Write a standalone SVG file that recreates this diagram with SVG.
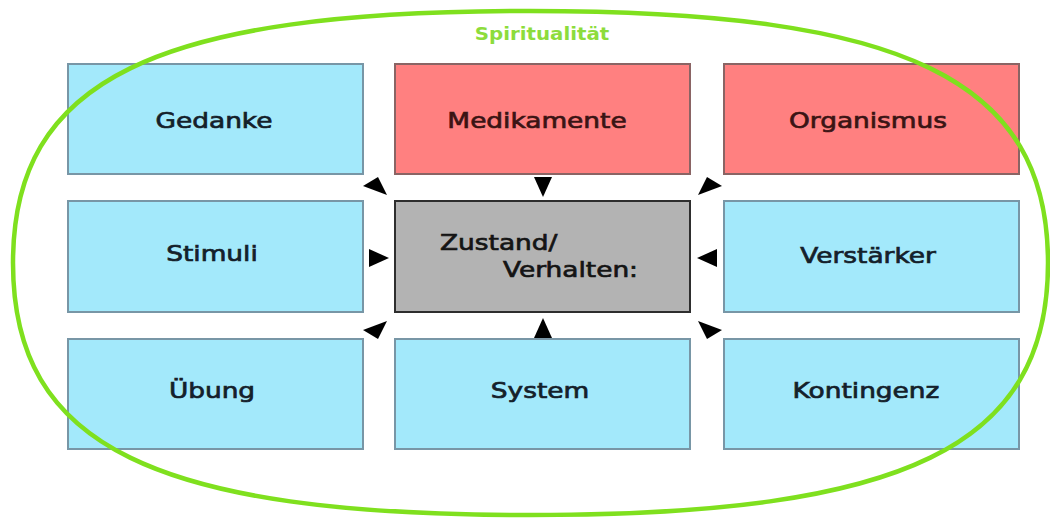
<svg xmlns="http://www.w3.org/2000/svg" width="1050" height="519" viewBox="0 0 1050 519">
<style>
.b{fill:#a3e9fb;stroke:#7896a6;stroke-width:2}
.r{fill:#ff8080;stroke:#8a6464;stroke-width:2}
.g{fill:#b3b3b3;stroke:#2e2e2e;stroke-width:2}
.t{font-family:"DejaVu Sans",sans-serif;font-size:22px;fill:#14202a;stroke:#14202a;stroke-width:0.7;text-anchor:middle}
.tr{fill:#3a1414;stroke:#3a1414}
.c{font-family:"DejaVu Sans",sans-serif;font-size:22px;fill:#141414;stroke:#141414;stroke-width:0.7}
.s{font-family:"DejaVu Sans",sans-serif;font-size:18px;font-weight:bold;fill:#8ddc3c;text-anchor:middle}
.a{fill:#000}
</style>
<defs>
<path id="arr" d="M0,0 L-20,-9 L-20,9 Z"/>
</defs>
<rect width="1050" height="519" fill="#fff"/>
<g id="gedanke"><rect class="b" x="68" y="64" width="295" height="110"/><text class="t" transform="translate(214,128) scale(1.2,1)">Gedanke</text></g>
<g id="medikamente"><rect class="r" x="395" y="64" width="295" height="110"/><text class="t tr" transform="translate(537,128) scale(1.2,1)">Medikamente</text></g>
<g id="organismus"><rect class="r" x="724" y="64" width="295" height="110"/><text class="t tr" transform="translate(868,128) scale(1.2,1)">Organismus</text></g>
<g id="stimuli"><rect class="b" x="68" y="201" width="295" height="111"/><text class="t" transform="translate(212,261) scale(1.2,1)">Stimuli</text></g>
<g id="zustand"><rect class="g" x="395" y="201" width="295" height="111"/><text class="c" transform="translate(440,250) scale(1.2,1)">Zustand/</text><text class="c" transform="translate(503,277) scale(1.2,1)">Verhalten:</text></g>
<g id="verstaerker"><rect class="b" x="724" y="201" width="295" height="111"/><text class="t" transform="translate(868,263) scale(1.2,1)">Verstärker</text></g>
<g id="uebung"><rect class="b" x="68" y="339" width="295" height="110"/><text class="t" transform="translate(212,398) scale(1.2,1)">Übung</text></g>
<g id="system"><rect class="b" x="395" y="339" width="295" height="110"/><text class="t" transform="translate(540,398) scale(1.2,1)">System</text></g>
<g id="kontingenz"><rect class="b" x="724" y="339" width="295" height="110"/><text class="t" transform="translate(866,398) scale(1.2,1)">Kontingenz</text></g>
<g id="connectors">
<use href="#arr" class="a" transform="translate(543,197) rotate(90)"/>
<use href="#arr" class="a" transform="translate(543,318) rotate(-90)"/>
<use href="#arr" class="a" transform="translate(389,258)"/>
<use href="#arr" class="a" transform="translate(697,258) rotate(180)"/>
<polygon class="a" points="363,186 378,177 387,195"/>
<polygon class="a" points="363,330 387,321 378,339"/>
<polygon class="a" points="722,186 707,177 698,195"/>
<polygon class="a" points="722,330 698,321 707,339"/>
</g>
<g id="spiritualitaet">
<path d="M13,263 C13,80 153,11 530,11 C907,11 1048,80 1048,263 C1048,446 907,515 530,515 C153,515 13,446 13,263 Z" fill="none" stroke="#7fe01e" stroke-width="4.5"/>
<text class="s" transform="translate(542,40) scale(1.1,1)">Spiritualität</text>
</g>
</svg>
